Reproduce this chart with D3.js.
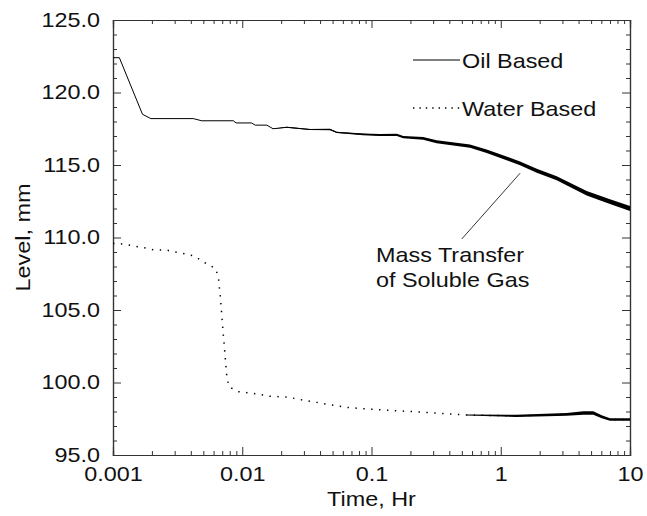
<!DOCTYPE html>
<html>
<head>
<meta charset="utf-8">
<script src="https://cdn.jsdelivr.net/npm/d3@7"></script>
<style>
  body { margin: 0; background: #fff; }
  svg text { font-family: "Liberation Sans", Arial, sans-serif; fill: #111; }
</style>
</head>
<body>
<svg id="chart" width="647" height="516"></svg>
<script>
// readings taken off the plot
const oilTime = [0.001, 0.00112, 0.00169, 0.00196, 0.00418, 0.00486, 0.00853, 0.00895, 0.0118, 0.0126,
  0.0155, 0.0173, 0.0221, 0.0334, 0.0478, 0.0538, 0.086, 0.116, 0.157, 0.176,
  0.251, 0.319, 0.578, 0.778, 1.41, 1.9, 2.71, 4.62, 7.0, 10];
const oilLevel = [122.4, 122.4, 118.5, 118.2, 118.2, 118.05, 118.05, 117.9, 117.9, 117.75,
  117.75, 117.5, 117.6, 117.45, 117.45, 117.25, 117.12, 117.07, 117.08, 116.92,
  116.84, 116.6, 116.3, 115.95, 115.12, 114.6, 114.08, 113.05, 112.47, 112.0];
// scatter of the readings around the trace (+/- mm)
const oilSpread = [0, 0, 0, 0, 0, 0, 0, 0, 0, 0,
  0, 0, 0.03, 0.04, 0.05, 0.05, 0.06, 0.07, 0.08, 0.08,
  0.09, 0.1, 0.11, 0.12, 0.13, 0.14, 0.14, 0.15, 0.16, 0.17];

const waterTime = [0.001, 0.00122, 0.00148, 0.00179, 0.00206, 0.00257, 0.00302, 0.00367, 0.00424, 0.00515,
  0.0062, 0.00653, 0.00677, 0.00706, 0.00731, 0.0076, 0.0079, 0.0093, 0.0109, 0.0135,
  0.0159, 0.0223, 0.0315, 0.0643, 0.123, 0.223, 0.545, 1.32, 3.24, 4.35,
  5.2, 6.04, 7.0, 10];
const waterLevel = [109.6, 109.55, 109.4, 109.28, 109.14, 109.14, 109.0, 108.86, 108.72, 108.26,
  107.87, 107.3, 105.9, 103.8, 102.2, 100.4, 99.7, 99.37, 99.3, 99.2,
  99.05, 99.0, 98.74, 98.28, 98.1, 97.98, 97.76, 97.7, 97.8, 97.9,
  97.9, 97.64, 97.45, 97.45];
const waterSpread = [0, 0, 0, 0, 0, 0, 0, 0, 0, 0,
  0, 0, 0, 0, 0, 0, 0, 0, 0, 0,
  0, 0, 0, 0, 0, 0, 0.03, 0.08, 0.1, 0.12,
  0.12, 0.1, 0.09, 0.09];

const xMajor = [0.001, 0.01, 0.1, 1, 10];
const xLabels = ["0.001", "0.01", "0.1", "1", "10"];
const yMajor = [95, 100, 105, 110, 115, 120, 125];

const seriesNames = ["Oil Based", "Water Based"];
const annoText = ["Mass Transfer", "of Soluble Gas"];
const annoFrom = [0.5, 109.9];
const annoTo = [1.41, 114.43];

const svg = d3.select("#chart");
const margin = {top: 20, right: 17, bottom: 61, left: 113};
const width = +svg.attr("width");
const height = +svg.attr("height");
const sx = 1.17; // text in the original is drawn a bit wide
const fs = "20px";

const x = d3.scaleLog().domain([0.001, 10]).range([margin.left, width - margin.right]);
const y = d3.scaleLinear().domain([95, 125]).range([height - margin.bottom, margin.top]);

const xMinor = x.ticks().filter(d => !xMajor.some(m => Math.abs(m - d) < 1e-9));
const yMinor = d3.range(95, 126, 1).filter(d => d % 5 !== 0);

const axisColor = "#333";

function styleAxis(g) {
  g.select(".domain").attr("stroke", axisColor).attr("stroke-width", 1.2);
  g.selectAll(".tick line").attr("stroke", axisColor);
  g.selectAll("text").style("font-size", fs).attr("transform", `scale(${sx},1)`);
}

// bottom
svg.append("g").attr("transform", `translate(0,${y(95)})`)
  .call(d3.axisBottom(x).tickValues(xMajor).tickSize(-8).tickPadding(12)
    .tickFormat((d, i) => xLabels[i]))
  .call(styleAxis);
svg.append("g").attr("transform", `translate(0,${y(95)})`)
  .call(d3.axisBottom(x).tickValues(xMinor).tickSize(-4).tickFormat(""))
  .call(styleAxis);
// top
svg.append("g").attr("transform", `translate(0,${y(125)})`)
  .call(d3.axisTop(x).tickValues(xMajor).tickSize(-8).tickFormat(""))
  .call(styleAxis);
svg.append("g").attr("transform", `translate(0,${y(125)})`)
  .call(d3.axisTop(x).tickValues(xMinor).tickSize(-4).tickFormat(""))
  .call(styleAxis);
// left
svg.append("g").attr("transform", `translate(${x(0.001)},0)`)
  .call(d3.axisLeft(y).tickValues(yMajor).tickSize(-8).tickPadding(11).tickFormat(d3.format(".1f")))
  .call(styleAxis);
svg.append("g").attr("transform", `translate(${x(0.001)},0)`)
  .call(d3.axisLeft(y).tickValues(yMinor).tickSize(-4).tickFormat(""))
  .call(styleAxis);
// right
svg.append("g").attr("transform", `translate(${x(10)},0)`)
  .call(d3.axisRight(y).tickValues(yMajor).tickSize(-8).tickFormat(""))
  .call(styleAxis);
svg.append("g").attr("transform", `translate(${x(10)},0)`)
  .call(d3.axisRight(y).tickValues(yMinor).tickSize(-4).tickFormat(""))
  .call(styleAxis);

// axis titles
svg.append("text")
  .attr("transform", `translate(${(x(0.001) + x(10)) / 2},506) scale(${sx},1)`)
  .attr("text-anchor", "middle").style("font-size", fs)
  .text("Time, Hr");
svg.append("text")
  .attr("transform", `translate(30,${(y(95) + y(125)) / 2}) rotate(-90) scale(${sx},1)`)
  .attr("text-anchor", "middle").style("font-size", fs)
  .text("Level, mm");

// series
const oil = oilTime.map((t, i) => ({t: t, v: oilLevel[i], s: oilSpread[i]}));
const water = waterTime.map((t, i) => ({t: t, v: waterLevel[i], s: waterSpread[i]}));

const band = d3.area().x(d => x(d.t)).y0(d => y(d.v - d.s)).y1(d => y(d.v + d.s));
const line = d3.line().x(d => x(d.t)).y(d => y(d.v));

svg.append("path").datum(oil).attr("d", band).attr("fill", "#000");
svg.append("path").datum(oil).attr("d", line)
  .attr("fill", "none").attr("stroke", "#000").attr("stroke-width", 1);

svg.append("path").datum(water.filter(d => d.t >= 0.3)).attr("d", band).attr("fill", "#000");
svg.append("path").datum(water).attr("d", line)
  .attr("fill", "none").attr("stroke", "#000").attr("stroke-width", 1.5)
  .attr("stroke-dasharray", "1.4,6.5");

// legend
const legend = svg.append("g");
[60, 108].forEach((ly, i) => {
  legend.append("line")
    .attr("x1", 413).attr("x2", 460).attr("y1", ly).attr("y2", ly)
    .attr("stroke", "#000").attr("stroke-width", i ? 1.4 : 1)
    .attr("stroke-dasharray", i ? "1.4,5" : null);
  legend.append("text")
    .attr("transform", `translate(462,${ly + 8}) scale(${sx},1)`)
    .style("font-size", fs)
    .text(seriesNames[i]);
});

// annotation
svg.append("line")
  .attr("x1", x(annoFrom[0])).attr("y1", y(annoFrom[1]))
  .attr("x2", x(annoTo[0])).attr("y2", y(annoTo[1]))
  .attr("stroke", "#000").attr("stroke-width", 0.8);
annoText.forEach((s, i) => {
  svg.append("text")
    .attr("transform", `translate(376,${262 + i * 25}) scale(${sx},1)`)
    .style("font-size", fs)
    .text(s);
});
</script>
</body>
</html>
